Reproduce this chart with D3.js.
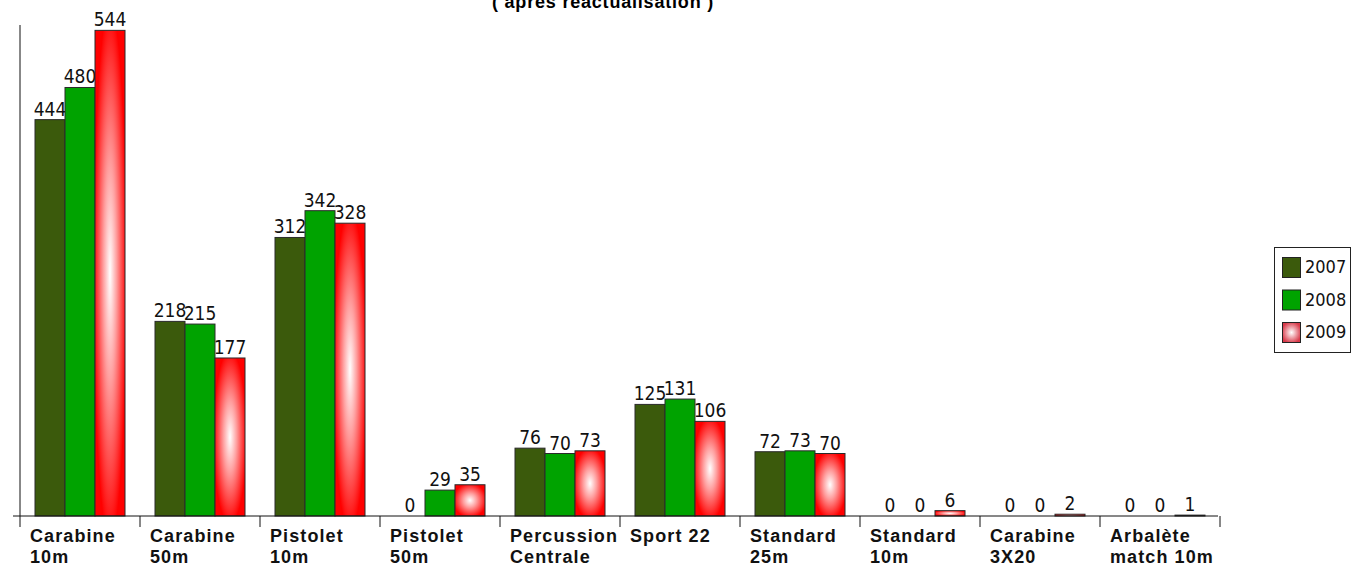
<!DOCTYPE html>
<html>
<head>
<meta charset="utf-8">
<script src="https://cdn.jsdelivr.net/npm/d3@7"></script>
<style>
  body { margin: 0; background: #fff; }
  svg { display: block; }
  .narrow { font-family: 'Liberation Sans Narrow', 'DejaVu Sans Condensed', 'DejaVu Sans', sans-serif; font-stretch: condensed; }
</style>
</head>
<body>
<script>
const width = 1357;
const height = 566;

const categories = [
    ["Carabine", "10m"], ["Carabine", "50m"], ["Pistolet", "10m"], ["Pistolet", "50m"],
    ["Percussion", "Centrale"], ["Sport 22"], ["Standard", "25m"], ["Standard", "10m"],
    ["Carabine", "3X20"], ["Arbalète", "match 10m"]
];
const years = ["2007", "2008", "2009"];
const values2007 = [444, 218, 312, 0, 76, 125, 72, 0, 0, 0];
const values2008 = [480, 215, 342, 29, 70, 131, 73, 0, 0, 0];
const values2009 = [544, 177, 328, 35, 73, 106, 70, 6, 2, 1];
const seriesValues = [values2007, values2008, values2009];
const subtitle = "( apres reactualisation )";

const bold = "'Liberation Sans', Arial, sans-serif";

const svg = d3.select("body")
    .append("svg")
    .attr("width", width)
    .attr("height", height);

// red bars get a white glow in the middle
const defs = svg.append("defs");
const glow = defs.append("radialGradient")
    .attr("id", "glow")
    .attr("cx", 0.5).attr("cy", 0.5).attr("r", 0.55);
glow.append("stop").attr("offset", "0%").attr("stop-color", "#ffffff");
glow.append("stop").attr("offset", "40%").attr("stop-color", "#ffa0a0");
glow.append("stop").attr("offset", "100%").attr("stop-color", "#ff0000");

const legendGlow = defs.append("radialGradient")
    .attr("id", "legendGlow")
    .attr("cx", 0.5).attr("cy", 0.5).attr("r", 0.55);
legendGlow.append("stop").attr("offset", "0%").attr("stop-color", "#ffffff");
legendGlow.append("stop").attr("offset", "100%").attr("stop-color", "#d93a4a");

const fills = { "2007": "#3b5a0c", "2008": "#00a300", "2009": "url(#glow)" };
const legendFills = { "2007": "#3b5a0c", "2008": "#00a300", "2009": "url(#legendGlow)" };

const catKeys = categories.map(c => c.join(" "));

const x0 = d3.scaleBand()
    .domain(catKeys)
    .range([20, 1220])
    .padding(0);

const x1 = d3.scaleBand()
    .domain(years)
    .range([0, x0.bandwidth()])
    .paddingInner(0)
    .paddingOuter(0.5);

const y = d3.scaleLinear()
    .domain([0, 550])
    .range([516, 25]);

// subtitle (top line is cut off in the original)
svg.append("text")
    .attr("x", 603)
    .attr("y", 8)
    .attr("text-anchor", "middle")
    .attr("font-family", bold)
    .attr("font-weight", "bold")
    .attr("font-size", "18px")
    .attr("letter-spacing", "0.8px")
    .text(subtitle);

// bars + value labels
const groups = svg.append("g")
    .selectAll("g")
    .data(catKeys)
    .join("g")
    .attr("transform", d => `translate(${x0(d)},0)`);

groups.each(function (key, i) {
    const g = d3.select(this);
    years.forEach((yr, j) => {
        const v = seriesValues[j][i];
        if (v > 0) {
            g.append("rect")
                .attr("x", x1(yr))
                .attr("y", y(v))
                .attr("width", x1.bandwidth())
                .attr("height", y(0) - y(v))
                .attr("fill", fills[yr])
                .attr("stroke", "#2a2a2a")
                .attr("stroke-width", 1);
        }
        g.append("text")
            .attr("class", "narrow")
            .attr("x", x1(yr) + x1.bandwidth() / 2)
            .attr("y", y(v) - 4)
            .attr("text-anchor", "middle")
            .attr("font-size", "19px")
            .attr("fill", "#111")
            .text(v);
    });
});

// axes
svg.append("line")
    .attr("x1", 20).attr("x2", 20)
    .attr("y1", y(550)).attr("y2", y(0))
    .attr("stroke", "#111");

svg.append("line")
    .attr("x1", 13).attr("x2", 1218)
    .attr("y1", y(0)).attr("y2", y(0))
    .attr("stroke", "#111");

const tickPos = catKeys.map(k => x0(k)).concat([x0.range()[1]]);
svg.append("g")
    .selectAll("line")
    .data(tickPos)
    .join("line")
    .attr("x1", d => d).attr("x2", d => d)
    .attr("y1", y(0)).attr("y2", y(0) + 11)
    .attr("stroke", "#111");

// category labels
const labels = svg.append("g")
    .selectAll("text")
    .data(categories)
    .join("text")
    .attr("y", 542)
    .attr("font-family", bold)
    .attr("font-weight", "bold")
    .attr("font-size", "18px")
    .attr("letter-spacing", "1.1px")
    .attr("fill", "#111");

labels.each(function (d, i) {
    const t = d3.select(this);
    d.forEach((line, k) => {
        t.append("tspan")
            .attr("x", x0(catKeys[i]) + 10)
            .attr("dy", k === 0 ? 0 : 21)
            .text(line);
    });
});

// legend
const legend = svg.append("g");
legend.append("rect")
    .attr("x", 1274.5).attr("y", 247.5)
    .attr("width", 76).attr("height", 105)
    .attr("fill", "#fff")
    .attr("stroke", "#222");

years.forEach((yr, j) => {
    const ly = 257 + j * 32.5;
    legend.append("rect")
        .attr("x", 1282.5).attr("y", ly + 0.5)
        .attr("width", 18).attr("height", 20)
        .attr("fill", legendFills[yr])
        .attr("stroke", "#222");
    legend.append("text")
        .attr("class", "narrow")
        .attr("x", 1305)
        .attr("y", ly + 16)
        .attr("font-size", "18px")
        .attr("fill", "#111")
        .text(yr);
});
</script>
</body>
</html>
